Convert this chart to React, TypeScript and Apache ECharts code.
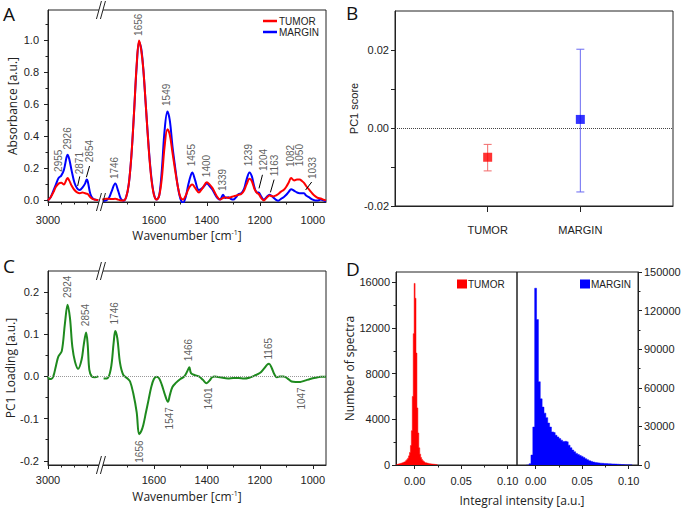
import React, { useEffect, useRef } from 'react';
import * as echarts from 'echarts';

// ---------------- Panel A: FTIR spectra ----------------
const aHighWn = [3000, 2990, 2980, 2970, 2960, 2950, 2940, 2930, 2926, 2920, 2910, 2900, 2890, 2880, 2870, 2860, 2854, 2850, 2840, 2830, 2820, 2810];
const aHighTumor = [0, 0.02, 0.05, 0.085, 0.105, 0.11, 0.1, 0.13, 0.14, 0.125, 0.09, 0.065, 0.05, 0.045, 0.05, 0.045, 0.042, 0.04, 0.02, 0.008, 0.004, 0.002];
const aHighMargin = [0, 0.02, 0.06, 0.1, 0.14, 0.155, 0.19, 0.27, 0.285, 0.26, 0.18, 0.11, 0.075, 0.065, 0.08, 0.105, 0.13, 0.12, 0.04, 0.01, 0.005, 0];

const aLowWn = [1795, 1780, 1770, 1760, 1746, 1735, 1725, 1715, 1705, 1695, 1685, 1675, 1665, 1656, 1648, 1640, 1630, 1620, 1610, 1600, 1590, 1580, 1570, 1560, 1549, 1540, 1530, 1520, 1510, 1500, 1490, 1480, 1470, 1460, 1455, 1445, 1430, 1415, 1400, 1390, 1380, 1370, 1360, 1350, 1339, 1330, 1320, 1310, 1300, 1290, 1280, 1270, 1260, 1250, 1239, 1230, 1220, 1210, 1204, 1195, 1185, 1175, 1163, 1150, 1140, 1130, 1120, 1110, 1100, 1090, 1082, 1070, 1060, 1050, 1040, 1033, 1025, 1015, 1000, 990, 980, 970, 960, 950];
const aLowTumor = [0.005, 0.01, 0.01, 0.008, 0.01, 0.005, 0, 0, 0.02, 0.1, 0.28, 0.55, 0.85, 1.0, 0.94, 0.82, 0.58, 0.33, 0.14, 0.035, 0.005, 0.03, 0.14, 0.33, 0.445, 0.41, 0.3, 0.19, 0.09, 0.02, 0.005, 0.03, 0.07, 0.095, 0.1, 0.08, 0.05, 0.08, 0.113, 0.1, 0.08, 0.05, 0.02, 0.005, 0.015, 0.02, 0.015, 0.02, 0.025, 0.03, 0.035, 0.04, 0.06, 0.1, 0.135, 0.12, 0.07, 0.045, 0.04, 0.015, 0, 0.015, 0.03, 0.025, 0.03, 0.04, 0.055, 0.065, 0.085, 0.115, 0.14, 0.125, 0.13, 0.13, 0.12, 0.11, 0.09, 0.07, 0.04, 0.025, 0.015, 0.012, 0.005, 0];
const aLowMargin = [-0.005, 0, 0.015, 0.055, 0.105, 0.06, 0.01, -0.002, 0.02, 0.1, 0.28, 0.55, 0.84, 0.99, 0.95, 0.82, 0.58, 0.34, 0.15, 0.04, 0.005, 0.03, 0.19, 0.43, 0.555, 0.5, 0.34, 0.21, 0.09, 0.01, -0.015, 0.02, 0.1, 0.16, 0.175, 0.13, 0.065, 0.08, 0.105, 0.09, 0.07, 0.04, 0.015, 0.005, 0.035, 0.015, 0.02, 0.01, 0.005, 0.02, 0.04, 0.045, 0.07, 0.13, 0.175, 0.15, 0.08, 0.05, 0.05, 0.025, 0.005, 0.02, 0.035, 0.02, 0.005, -0.002, 0.01, 0.02, 0.035, 0.055, 0.07, 0.06, 0.05, 0.045, 0.045, 0.045, 0.03, 0.02, 0.005, 0, 0, 0.005, 0, -0.005];

// peak annotations (label anchor wavenumber, label base value)
const aPeakNames = ['2955', '2926', '1746', '1656', '1549', '1455', '1400', '1339', '1239', '1082', '1050'];
const aPeakWn = [2958, 2925, 1746, 1656, 1549, 1455, 1400, 1339, 1239, 1084, 1049];
const aPeakY = [0.175, 0.315, 0.13, 1.025, 0.587, 0.21, 0.142, 0.055, 0.21, 0.205, 0.21];
const aArrowNames = ['2871', '2854', '1204', '1163', '1033'];
const aArrowLabel = [[2880, 0.16], [2843, 0.236], [1186, 0.18], [1141, 0.148], [1000, 0.13]];
const aArrowFrom = [[2880, 0.15], [2843, 0.215], [1190, 0.16], [1146, 0.13], [1004, 0.115]];
const aArrowTo = [[2888, 0.09], [2855, 0.145], [1203, 0.075], [1160, 0.05], [1027, 0.065]];

// ---------------- Panel B: PC1 score ----------------
const groups = ['TUMOR', 'MARGIN'];
const pcMean = [-0.0075, 0.0022];
const pcUpper = [-0.0042, 0.0202];
const pcLower = [-0.011, -0.0164];

// ---------------- Panel C: PC1 loading ----------------
const cHighWn = [3000, 2995, 2988, 2980, 2970, 2961, 2948, 2936, 2926, 2917, 2908, 2898, 2886, 2873, 2865, 2856, 2850, 2844, 2835, 2823, 2810];
const cHighLoad = [0, -0.006, -0.006, 0, 0.025, 0.047, 0.06, 0.126, 0.17, 0.138, 0.07, 0.035, 0.018, 0.04, 0.075, 0.104, 0.075, 0.016, 0, -0.002, 0];
const cLowWn = [1790, 1778, 1763, 1752, 1746, 1738, 1728, 1716, 1700, 1690, 1678, 1665, 1656, 1648, 1640, 1630, 1620, 1610, 1600, 1590, 1580, 1570, 1560, 1547, 1540, 1530, 1515, 1500, 1485, 1472, 1466, 1460, 1445, 1430, 1415, 1401, 1390, 1380, 1370, 1350, 1320, 1300, 1280, 1260, 1240, 1220, 1200, 1185, 1172, 1165, 1155, 1145, 1135, 1125, 1110, 1095, 1080, 1065, 1047, 1030, 1010, 990, 970, 950];
const cLowLoad = [-0.005, -0.005, 0.017, 0.08, 0.108, 0.09, 0.032, 0.004, -0.005, -0.012, -0.04, -0.085, -0.137, -0.13, -0.115, -0.085, -0.055, -0.025, -0.006, -0.001, -0.005, -0.02, -0.04, -0.06, -0.045, -0.025, -0.014, -0.006, 0, 0.015, 0.022, 0.008, 0.003, 0, -0.008, -0.016, -0.01, -0.002, 0, -0.002, -0.005, -0.004, -0.004, -0.005, -0.003, 0.002, 0.008, 0.018, 0.028, 0.03, 0.02, 0.005, -0.002, 0, 0, -0.005, -0.012, -0.013, -0.013, -0.01, -0.006, -0.003, -0.001, -0.001];
const cUpNames = ['2924', '2854', '1746', '1466', '1165'];
const cUpWn = [2924, 2857, 1746, 1466, 1165];
const cUpY = [0.185, 0.118, 0.122, 0.035, 0.039];
const cDownNames = ['1656', '1547', '1401', '1047'];
const cDownWn = [1652, 1541, 1392, 1039];
const cDownY = [-0.153, -0.074, -0.027, -0.027];

// ---------------- Panel D: histograms ----------------
const tumorBinStart = -0.019;
const tumorBinWidth = 0.001;
const tumorCounts = [50, 80, 100, 130, 150, 180, 210, 250, 290, 330, 400, 480, 600, 800, 1100, 1700, 3000, 6000, 11500, 15900, 14600, 9800, 5000, 2800, 1500, 950, 650, 480, 380, 300, 250, 200, 170, 150, 130, 110, 100, 90, 80, 70, 60, 50, 40, 30];
const marginBinStart = -0.008;
const marginBinWidth = 0.002;
const marginCounts = [0, 1000, 7700, 29500, 137400, 113000, 64700, 51400, 45000, 40300, 36800, 32600, 29500, 25700, 25200, 23100, 21800, 20500, 19300, 18300, 18400, 18000, 15400, 13400, 11600, 10300, 9000, 8200, 7400, 6700, 5900, 4900, 4100, 3300, 2800, 2300, 2000, 1800, 1600, 1400, 1300, 1200, 1100, 1000, 900, 850, 800, 700, 600, 500, 400, 300, 250, 200, 150, 100];

// ticks
const specTicks = [0, 400, 600, 800, 1000];
const specMinor = [50, 100, 150, 300, 500, 700, 900];
const aYTicks = [0, 0.2, 0.4, 0.6, 0.8, 1.0];
const aYMinor = [0.1, 0.3, 0.5, 0.7, 0.9, 1.1];
const bYTicks = [-0.02, -0.01, 0, 0.01, 0.02];
const bYLabels = [-0.02, 0, 0.02];
const cYTicks = [-0.2, -0.1, 0, 0.1, 0.2];
const cYMinor = [-0.15, -0.05, 0.05, 0.15];
const dXTicks = [0, 0.05, 0.1];
const dXMinor = [0.025, 0.075];
const dLYTicks = [0, 4000, 8000, 12000, 16000];
const dLYMinor = [2000, 6000, 10000, 14000];
const dRYTicks = [0, 30000, 60000, 90000, 120000, 150000];
const dRYMinor = [15000, 45000, 75000, 105000, 135000];

const RED = '#ff0000';
const BLUE = '#0000ff';
const GREEN = '#1e8a1e';
const AX = '#222';
const TXT = '#222';
const FONT = '"Liberation Sans", Arial, sans-serif';
const NFONT = '"Open Sans", sans-serif';

const wnToPos = (w: number) => (w >= 2800 ? 3000 - w : 2000 - w);
const posLabel = (p: number) => (p === 0 ? '3000' : String(2000 - p));
const pairs = (xs: number[], ys: number[]) => xs.map((x, i) => [wnToPos(x), ys[i]]);

const xMain = (gridIndex: number, min: number, max: number, ticks: number[], labels: number[], fmt: any, margin: number, extra: any = {}) => ({
  type: 'value', gridIndex, min, max, position: 'bottom',
  axisLine: { show: true, onZero: false, lineStyle: { color: AX, width: 1 } },
  axisTick: { show: true, customValues: ticks, length: 4, inside: false, lineStyle: { color: AX } },
  axisLabel: { show: true, customValues: labels, formatter: fmt, fontSize: 11, color: TXT, fontFamily: FONT, margin },
  splitLine: { show: false },
  ...extra,
});
const xMinor = (gridIndex: number, min: number, max: number, ticks: number[]) => ({
  type: 'value', gridIndex, min, max, position: 'bottom',
  axisLine: { show: false, onZero: false },
  axisTick: { show: true, customValues: ticks, length: 2.5, lineStyle: { color: AX } },
  axisLabel: { show: false },
  splitLine: { show: false },
});
const yMain = (gridIndex: number, min: number, max: number, ticks: number[], labels: number[], fmt: any, margin: number, extra: any = {}) => ({
  type: 'value', gridIndex, min, max, position: 'left',
  axisLine: { show: true, onZero: false, lineStyle: { color: AX, width: 1 } },
  axisTick: { show: true, customValues: ticks, length: 4, lineStyle: { color: AX } },
  axisLabel: { show: true, customValues: labels, formatter: fmt, fontSize: 11, color: TXT, fontFamily: FONT, margin },
  splitLine: { show: false },
  ...extra,
});
const yMinor = (gridIndex: number, min: number, max: number, ticks: number[], position = 'left') => ({
  type: 'value', gridIndex, min, max, position,
  axisLine: { show: false, onZero: false },
  axisTick: { show: true, customValues: ticks, length: 2.5, lineStyle: { color: AX } },
  axisLabel: { show: false },
  splitLine: { show: false },
});

const wnName = {
  name: '{n|Wavenumber [cm}{s|-1}{n|]}',
  nameLocation: 'middle',
  nameTextStyle: {
    rich: {
      n: { fontSize: 12, fontFamily: NFONT, color: TXT },
      s: { fontSize: 7, fontFamily: NFONT, color: TXT, verticalAlign: 'top' },
    },
  },
};

const rotLabel = {
  show: true,
  formatter: (p: any) => p.name,
  rotate: 90,
  position: [0, 0],
  align: 'left',
  verticalAlign: 'middle',
  fontSize: 10,
  fontFamily: FONT,
  color: '#333',
};

const histData = (start: number, width: number, counts: number[]) => {
  const pts: number[][] = [[start - width, 0]];
  counts.forEach((c, i) => pts.push([start + i * width, c]));
  pts.push([start + counts.length * width, 0]);
  return pts;
};

const lineBase = { type: 'line', symbol: 'none', showSymbol: false, smooth: 0.35, silent: true };

const legendText = { fontSize: 10, fontFamily: FONT, color: TXT };

const option: any = {
  animation: false,
  backgroundColor: '#fff',
  textStyle: { fontFamily: FONT },
  grid: [
    { left: 48, top: 10, width: 278, height: 192, show: true, borderColor: AX, borderWidth: 1 },
    { left: 395, top: 11, width: 278, height: 195, show: true, borderColor: AX, borderWidth: 1 },
    { left: 48, top: 271, width: 278, height: 194, show: true, borderColor: AX, borderWidth: 1 },
    { left: 396, top: 272, width: 121, height: 193, show: true, borderColor: AX, borderWidth: 1 },
    { left: 517, top: 272, width: 121, height: 193, show: true, borderColor: AX, borderWidth: 1 },
  ],
  xAxis: [
    xMain(0, 0, 1050, specTicks, specTicks, posLabel, 12, { ...wnName, nameGap: 27 }),
    xMinor(0, 0, 1050, specMinor),
    xMain(1, 0, 3, [1, 2], [1, 2], (v: number) => groups[v - 1], 18, { axisTick: { show: true, customValues: [1, 2], length: 6, lineStyle: { color: AX } } }),
    xMain(2, 0, 1050, specTicks, specTicks, posLabel, 9, { ...wnName, nameGap: 25 }),
    xMinor(2, 0, 1050, specMinor),
    xMain(3, -0.02, 0.11, dXTicks, dXTicks, (v: number) => v.toFixed(2), 10),
    xMinor(3, -0.02, 0.11, dXMinor),
    xMain(4, -0.02, 0.11, dXTicks, dXTicks, (v: number) => v.toFixed(2), 10),
    xMinor(4, -0.02, 0.11, dXMinor),
  ],
  yAxis: [
    yMain(0, -0.01, 1.19, aYTicks, aYTicks, (v: number) => v.toFixed(1), 9, {
      name: 'Absorbance [a.u.]', nameLocation: 'middle', nameGap: 30,
      nameTextStyle: { fontSize: 12, fontFamily: NFONT, color: TXT },
    }),
    yMinor(0, -0.01, 1.19, aYMinor),
    yMain(1, -0.02, 0.03, bYTicks, bYLabels, (v: number) => v.toFixed(2), 6, {
      name: 'PC1 score', nameLocation: 'middle', nameGap: 36,
      nameTextStyle: { fontSize: 11, fontFamily: FONT, color: TXT },
    }),
    yMain(2, -0.21, 0.25, cYTicks, cYTicks, (v: number) => v.toFixed(1), 9, {
      name: 'PC1 Loading [a.u.]', nameLocation: 'middle', nameGap: 32,
      nameTextStyle: { fontSize: 12, fontFamily: NFONT, color: TXT },
    }),
    yMinor(2, -0.21, 0.25, cYMinor),
    yMain(3, 0, 16900, dLYTicks, dLYTicks, (v: number) => String(v), 6, {
      name: 'Number of spectra', nameLocation: 'middle', nameGap: 38,
      nameTextStyle: { fontSize: 12, fontFamily: NFONT, color: TXT },
    }),
    yMinor(3, 0, 16900, dLYMinor),
    yMain(4, 0, 150000, dRYTicks, dRYTicks, (v: number) => String(v), 6, { position: 'right' }),
    yMinor(4, 0, 150000, dRYMinor, 'right'),
  ],
  legend: [
    {
      data: ['TUMOR', 'MARGIN'], left: 263, top: 16, orient: 'vertical', itemGap: 1, padding: 0,
      icon: 'rect', itemWidth: 14, itemHeight: 2.5, selectedMode: false,
      textStyle: { ...legendText, padding: [0, 0, 0, -3] },
    },
    {
      data: ['TUMOR hist'], formatter: () => 'TUMOR', left: 457, top: 279, icon: 'rect', padding: 0,
      itemWidth: 10, itemHeight: 9, selectedMode: false,
      textStyle: { ...legendText, padding: [0, 0, 0, -4] },
    },
    {
      data: ['MARGIN hist'], formatter: () => 'MARGIN', left: 580, top: 279, icon: 'rect', padding: 0,
      itemWidth: 10, itemHeight: 9, selectedMode: false,
      textStyle: { ...legendText, padding: [0, 0, 0, -4] },
    },
  ],
  series: [
    // Panel A spectra
    { ...lineBase, name: 'MARGIN', xAxisIndex: 0, yAxisIndex: 0, data: pairs(aHighWn, aHighMargin), lineStyle: { color: BLUE, width: 2 }, itemStyle: { color: BLUE } },
    { ...lineBase, name: 'MARGIN', xAxisIndex: 0, yAxisIndex: 0, data: pairs(aLowWn, aLowMargin), lineStyle: { color: BLUE, width: 2 }, itemStyle: { color: BLUE } },
    { ...lineBase, name: 'TUMOR', xAxisIndex: 0, yAxisIndex: 0, data: pairs(aHighWn, aHighTumor), lineStyle: { color: RED, width: 2 }, itemStyle: { color: RED } },
    { ...lineBase, name: 'TUMOR', xAxisIndex: 0, yAxisIndex: 0, data: pairs(aLowWn, aLowTumor), lineStyle: { color: RED, width: 2 }, itemStyle: { color: RED } },
    // Panel A peak labels + arrows
    {
      type: 'scatter', xAxisIndex: 0, yAxisIndex: 0, symbolSize: 1, silent: true,
      itemStyle: { color: 'rgba(0,0,0,0)' },
      label: rotLabel,
      data: [
        ...aPeakNames.map((n, i) => ({ name: n, value: [wnToPos(aPeakWn[i]), aPeakY[i]] })),
        ...aArrowNames.map((n, i) => ({ name: n, value: [wnToPos(aArrowLabel[i][0]), aArrowLabel[i][1]] })),
      ],
      markLine: {
        silent: true, symbol: ['none', 'arrow'], symbolSize: [0, 6],
        label: { show: false },
        lineStyle: { color: '#000', width: 1, type: 'solid' },
        data: aArrowFrom.map((f, i) => [
          { coord: [wnToPos(f[0]), f[1]] },
          { coord: [wnToPos(aArrowTo[i][0]), aArrowTo[i][1]] },
        ]),
      },
    },
    // Panel B error bars
    {
      type: 'custom', xAxisIndex: 2, yAxisIndex: 2, silent: true,
      encode: { x: 0, y: [1, 2] },
      data: groups.map((g, i) => [i + 1, pcUpper[i], pcLower[i]]),
      renderItem: (params: any, api: any) => {
        const x = api.value(0);
        const hi = api.coord([x, api.value(1)]);
        const lo = api.coord([x, api.value(2)]);
        const c = params.dataIndex === 0 ? '#f26a6a' : '#6a6af2';
        const st = { stroke: c, lineWidth: 1 };
        return {
          type: 'group',
          children: [
            { type: 'line', shape: { x1: hi[0], y1: hi[1], x2: lo[0], y2: lo[1] }, style: st },
            { type: 'line', shape: { x1: hi[0] - 4, y1: hi[1], x2: hi[0] + 4, y2: hi[1] }, style: st },
            { type: 'line', shape: { x1: lo[0] - 4, y1: lo[1], x2: lo[0] + 4, y2: lo[1] }, style: st },
          ],
        };
      },
    },
    // Panel B means
    {
      type: 'scatter', xAxisIndex: 2, yAxisIndex: 2, symbol: 'rect', symbolSize: 9, silent: true,
      data: groups.map((g, i) => ({ name: g, value: [i + 1, pcMean[i]], itemStyle: { color: i === 0 ? RED : BLUE } })),
      markLine: {
        silent: true, symbol: 'none', label: { show: false },
        lineStyle: { color: '#444', width: 1, type: 'dotted' },
        data: [{ yAxis: 0 }],
      },
    },
    // Panel C loading
    { ...lineBase, xAxisIndex: 3, yAxisIndex: 3, data: pairs(cHighWn, cHighLoad), lineStyle: { color: GREEN, width: 2 } },
    { ...lineBase, xAxisIndex: 3, yAxisIndex: 3, data: pairs(cLowWn, cLowLoad), lineStyle: { color: GREEN, width: 2 } },
    {
      type: 'scatter', xAxisIndex: 3, yAxisIndex: 3, symbolSize: 1, silent: true, z: 1,
      itemStyle: { color: 'rgba(0,0,0,0)' },
      label: rotLabel,
      data: [
        ...cUpNames.map((n, i) => ({ name: n, value: [wnToPos(cUpWn[i]), cUpY[i]] })),
        ...cDownNames.map((n, i) => ({ name: n, value: [wnToPos(cDownWn[i]), cDownY[i]], label: { align: 'right' } })),
      ],
      markLine: {
        silent: true, symbol: 'none', label: { show: false },
        lineStyle: { color: '#999', width: 1, type: 'dotted' },
        data: [{ yAxis: 0 }],
      },
    },
    // Panel D histograms
    {
      type: 'line', name: 'TUMOR hist', xAxisIndex: 5, yAxisIndex: 5, step: 'middle', symbol: 'none', silent: true,
      data: histData(tumorBinStart, tumorBinWidth, tumorCounts),
      lineStyle: { color: RED, width: 0.5 }, areaStyle: { color: RED, opacity: 1 }, itemStyle: { color: RED },
    },
    {
      type: 'line', name: 'MARGIN hist', xAxisIndex: 7, yAxisIndex: 7, step: 'middle', symbol: 'none', silent: true,
      data: histData(marginBinStart, marginBinWidth, marginCounts),
      lineStyle: { color: BLUE, width: 0.5 }, areaStyle: { color: BLUE, opacity: 1 }, itemStyle: { color: BLUE },
    },
  ],
};

const breakMark = (x: number, y: number) => [
  { type: 'rect', shape: { x: x - 2, y: y - 1.5, width: 4, height: 3 }, style: { fill: '#fff' }, z: 100 },
  { type: 'line', shape: { x1: x - 4.5, y1: y + 9, x2: x + 0.5, y2: y - 9 }, style: { stroke: AX, lineWidth: 1 }, z: 101 },
  { type: 'line', shape: { x1: x - 0.5, y1: y + 9, x2: x + 4.5, y2: y - 9 }, style: { stroke: AX, lineWidth: 1 }, z: 101 },
];

const letter = (t: string, x: number, y: number) => ({
  type: 'text', x, y, z: 100,
  style: { text: t, fontSize: 19, fontFamily: NFONT, fill: '#111' },
});

export default function App() {
  const ref = useRef<HTMLDivElement>(null);
  useEffect(() => {
    const chart = echarts.init(ref.current!, undefined, { renderer: 'svg', width: 685, height: 508 });
    chart.setOption(option);
    const bxA = chart.convertToPixel({ xAxisIndex: 0 }, 200) as number;
    const bxC = chart.convertToPixel({ xAxisIndex: 3 }, 200) as number;
    chart.setOption({
      graphic: [
        ...breakMark(bxA, 10),
        ...breakMark(bxA, 202),
        ...breakMark(bxC, 271),
        ...breakMark(bxC, 465),
        letter('A', 3, 4),
        letter('B', 346, 3),
        letter('C', 3, 256),
        letter('D', 346, 259),
        {
          type: 'text', x: 522, y: 500, z: 100,
          style: { text: 'Integral intensity [a.u.]', fontSize: 12, fontFamily: NFONT, fill: TXT, align: 'center', verticalAlign: 'middle' },
        },
      ],
    });
    return () => chart.dispose();
  }, []);
  return <div ref={ref} style={{ position: 'absolute', left: 0, top: 0, width: 685, height: 508, background: '#fff' }} />;
}
